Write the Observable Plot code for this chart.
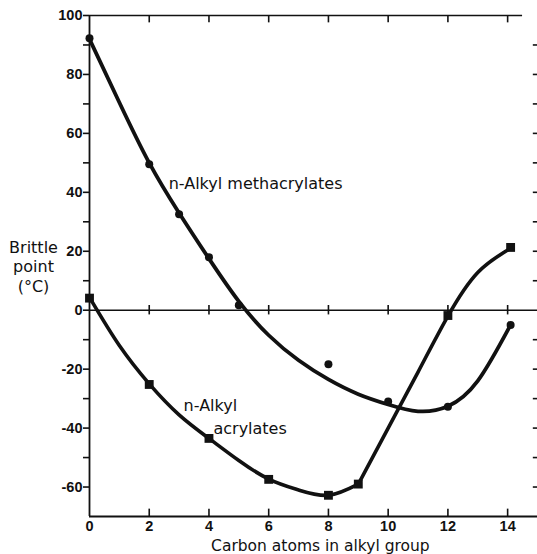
<!DOCTYPE html>
<html>
<head>
<meta charset="utf-8">
<script src="https://cdn.jsdelivr.net/npm/d3@7"></script>
<script src="https://cdn.jsdelivr.net/npm/@observablehq/plot@0.6"></script>
<style>
  html, body { margin: 0; padding: 0; background: #fff; }
  svg { display: block; }
</style>
</head>
<body>
<div id="chart"></div>
<script>
// Measured points: n-alkyl methacrylates (circles)
const methX = [0, 2, 3, 4, 5, 8, 10, 12, 14.1];
const methY = [92.3, 49.5, 32.6, 18, 1.7, -18.3, -31, -32.8, -5];
// Measured points: n-alkyl acrylates (squares)
const acrX = [0, 2, 4, 6, 8, 9, 12, 14.1];
const acrY = [4.1, -25.2, -43.5, -57.4, -62.8, -59, -1.8, 21.3];

// Hand-drawn smooth curves
const methCurveX = [0, 1, 2, 3, 4, 5, 6, 7, 8, 9, 10, 11, 12, 13, 14.1];
const methCurveY = [92, 70.5, 50, 33, 17.5, 3, -8.5, -17, -23.5, -28.5, -32, -34.3, -32.6, -24, -5];
// acrylate curve is drawn in two pieces: a smooth bowl, then a near-straight rise
const acrCurveSeg = [1, 1, 1, 1, 1, 1, 1, 1, 1, 1, 2, 2, 2, 2, 2, 2];
const acrCurveX = [0.05, 1, 2, 3, 4, 5, 6, 7, 8, 9, 9, 10, 11, 12, 13, 14.1];
const acrCurveY = [3.5, -12, -25, -35.5, -43.5, -51, -57.3, -61, -62.8, -59, -59, -40, -21, -2, 12.8, 21];

// Axes
const xTicks = [0, 2, 4, 6, 8, 10, 12, 14];
const xInnerTicks = [2, 4, 6, 8, 10, 12, 14];
const yTicks = [-60, -50, -40, -30, -20, -10, 0, 10, 20, 30, 40, 50, 60, 70, 80, 90, 100];
const yRightTicks = [-60, -50, -40, -30, -20, -10, 10, 20, 30, 40, 50, 60, 70, 80, 90];

const xLabel = "Carbon atoms in alkyl group";
const yLabel = "Brittle\npoint\n(°C)";
const methLabel = "n-Alkyl methacrylates";
const acrLabel1 = "n-Alkyl";
const acrLabel2 = "acrylates";

const methPts = methX.map((x, i) => ({x, y: methY[i]}));
const acrPts = acrX.map((x, i) => ({x, y: acrY[i]}));
const methCurve = methCurveX.map((x, i) => ({x, y: methCurveY[i]}));
const acrCurve = acrCurveX.map((x, i) => ({x, y: acrCurveY[i], s: acrCurveSeg[i]}));

const ink = "#111";
const tickFont = "Liberation Sans, Arial, sans-serif";
const labelFont = "DejaVu Sans, sans-serif";

const chart = Plot.plot({
  width: 537,
  height: 554,
  marginLeft: 89,
  marginRight: 0,
  marginTop: 15,
  marginBottom: 38,
  x: {domain: [0, 15], axis: null},
  y: {domain: [-70, 100], axis: null},
  style: {background: "#fff", color: ink},
  marks: [
    // frame lines
    Plot.ruleX([0], {y1: -70, y2: 100, stroke: ink, strokeWidth: 1.8}),
    Plot.ruleY([100], {x1: 0, x2: 14.5, stroke: ink, strokeWidth: 1.5}),
    Plot.ruleY([-70], {x1: 0, x2: 15, stroke: ink, strokeWidth: 2}),
    Plot.ruleY([0], {x1: 0, x2: 15, stroke: ink, strokeWidth: 1.5}),
    // inner ticks
    Plot.ruleX(xInnerTicks, {y1: -70, y2: -67.5, stroke: ink, strokeWidth: 1.6}),
    Plot.ruleX(xInnerTicks, {y1: 100, y2: 97.5, stroke: ink, strokeWidth: 1.6}),
    Plot.ruleX(xInnerTicks, {y1: -1.6, y2: 1.6, stroke: ink, strokeWidth: 1.6}),
    Plot.ruleY(yRightTicks, {x1: 14.86, x2: 15, stroke: ink, strokeWidth: 1.6}),
    // left axis
    Plot.axisY({
      anchor: "left",
      ticks: yTicks,
      tickSize: 6,
      tickPadding: 1,
      strokeWidth: 1.6,
      tickFormat: d => (d % 20 === 0 ? String(d) : ""),
      fontSize: 14.5,
      fontWeight: "bold",
      fontFamily: tickFont,
      label: null
    }),
    // bottom axis labels
    Plot.axisX({
      anchor: "bottom",
      ticks: xTicks,
      tickSize: 0,
      tickPadding: 4,
      tickFormat: d => String(d),
      fontSize: 14.5,
      fontWeight: "bold",
      fontFamily: tickFont,
      label: null
    }),
    // curves
    Plot.line(methCurve, {x: "x", y: "y", curve: "natural", stroke: ink, strokeWidth: 3.8}),
    Plot.line(acrCurve, {x: "x", y: "y", z: "s", curve: "natural", stroke: ink, strokeWidth: 3.6}),
    // points
    Plot.dot(methPts, {x: "x", y: "y", r: 4, fill: ink, stroke: "none"}),
    Plot.dot(acrPts, {x: "x", y: "y", r: 5, symbol: "square", fill: ink, stroke: "none"}),
    // labels
    Plot.text([methLabel], {x: 2.65, y: 42.8, text: d => d, textAnchor: "start", fontSize: 16, fontFamily: labelFont, fill: ink}),
    Plot.text([acrLabel1], {x: 3.15, y: -32.6, text: d => d, textAnchor: "start", fontSize: 16, fontFamily: labelFont, fill: ink}),
    Plot.text([acrLabel2], {x: 4.15, y: -40.2, text: d => d, textAnchor: "start", fontSize: 16, fontFamily: labelFont, fill: ink}),
    Plot.text([yLabel], {x: 0, y: 14.9, dx: -56, text: d => d, textAnchor: "middle", lineAnchor: "middle", lineHeight: 1.2, fontSize: 16, fontFamily: labelFont, fill: ink}),
    Plot.text([xLabel], {x: 7.73, y: -70, dy: 30, text: d => d, textAnchor: "middle", lineAnchor: "middle", fontSize: 15.5, fontFamily: labelFont, fill: ink})
  ]
});

document.getElementById("chart").appendChild(chart);
</script>
</body>
</html>
